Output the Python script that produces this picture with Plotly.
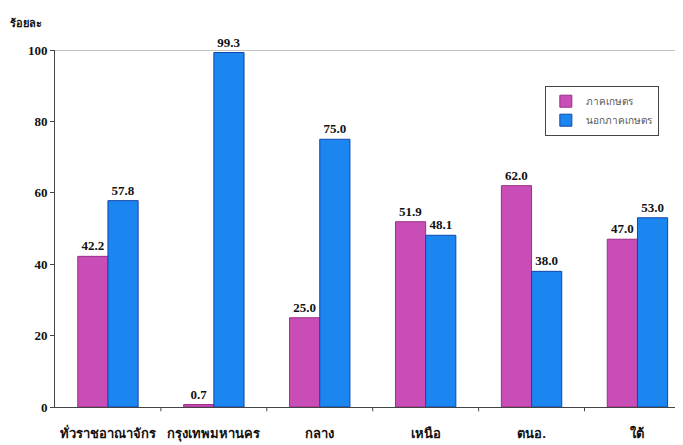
import plotly.graph_objects as go

categories = ["ทั่วราชอาณาจักร", "กรุงเทพมหานคร", "กลาง", "เหนือ", "ตนอ.", "ใต้"]
agri = [42.2, 0.7, 25.0, 51.9, 62.0, 47.0]
non_agri = [57.8, 99.3, 75.0, 48.1, 38.0, 53.0]
series_names = ["ภาคเกษตร", "นอกภาคเกษตร"]
y_ticks = [0, 20, 40, 60, 80, 100]

serif = "Liberation Serif"
thai = "Noto Sans, DejaVu Sans"
fig = go.Figure()
fig.add_trace(go.Bar(
    x=list(range(len(categories))), y=agri, name=series_names[0],
    marker=dict(color="#C94DB6", line=dict(color="#9A2E88", width=1)),
    text=[f"<b>{v:.1f}</b>" for v in agri], textposition="outside",
    textfont=dict(family=serif, size=13, color="#111"), cliponaxis=False,
))
fig.add_trace(go.Bar(
    x=list(range(len(categories))), y=non_agri, name=series_names[1],
    marker=dict(color="#1C86F0", line=dict(color="#1046A8", width=1)),
    text=[f"<b>{v:.1f}</b>" for v in non_agri], textposition="outside",
    textfont=dict(family=serif, size=13, color="#111"), cliponaxis=False,
))

fig.update_layout(
    width=675, height=437,
    margin=dict(l=47, r=0, t=42, b=38),
    paper_bgcolor="white", plot_bgcolor="white",
    barmode="group", bargap=0.43, bargroupgap=0,
    font=dict(family=serif, size=13, color="#111"),
    showlegend=True,
    legend=dict(x=0.78, y=0.9, xanchor="left", yanchor="top",
                bordercolor="#444", borderwidth=1, bgcolor="white",
                font=dict(family=thai, size=10, color="#555"), itemwidth=30,
                tracegroupgap=6),
    xaxis=dict(
        range=[-0.5, 5.43], tickmode="array",
        tickvals=list(range(len(categories))),
        ticktext=[f"<b>{c}</b>" for c in categories],
        showline=True, linecolor="#444", linewidth=1, ticks="",
        showgrid=False, zeroline=False, ticklabelstandoff=14,
        tickfont=dict(family=thai, size=13, color="#111"),
    ),
    yaxis=dict(
        range=[0, 100], tickvals=y_ticks,
        ticktext=[f"<b>{t}</b>" for t in y_ticks],
        showline=True, linecolor="#444",
        linewidth=1, ticks="outside", ticklen=4, tickcolor="#444",
        showgrid=False, zeroline=False,
        tickfont=dict(family=serif, size=13, color="#111"),
    ),
)
fig.add_shape(type="line", xref="paper", yref="y", x0=0, x1=1, y0=100, y1=100,
              line=dict(color="#888", width=1))
for i in range(len(categories)):
    fig.add_shape(type="line", xref="x", yref="paper", x0=i + 0.5, x1=i + 0.5,
                  y0=0, y1=-0.012, line=dict(color="#444", width=1))
fig.add_annotation(text="<b>ร้อยละ</b>", xref="paper", yref="paper", x=-0.075, y=1.05,
                   xanchor="left", yanchor="bottom", showarrow=False,
                   font=dict(family=thai, size=11, color="#111"))

fig.write_html("out.html")
